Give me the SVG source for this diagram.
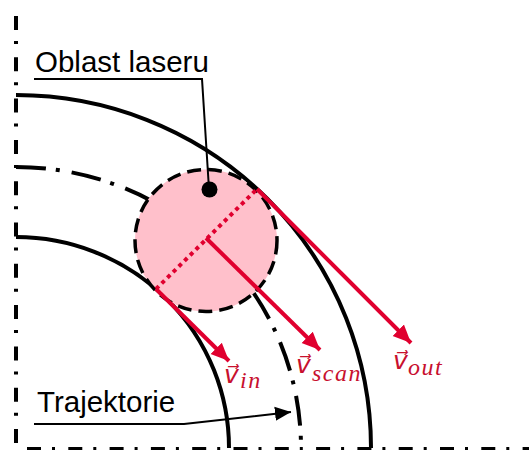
<svg xmlns="http://www.w3.org/2000/svg" width="529" height="450" viewBox="0 0 529 450">
<style>
.k{fill:none;stroke:#000}
.r{fill:none;stroke:#e0002f;stroke-width:4}
.l{font:29.500px "Liberation Sans",Arial,sans-serif;fill:#000}
.m{font:italic 25px "DejaVu Sans",sans-serif;fill:#c8102e}
.s{font:italic 24px "Liberation Serif",serif;fill:#c8102e;letter-spacing:1.500px}
</style>
<defs>
<marker id="rh" markerUnits="userSpaceOnUse" markerWidth="20" markerHeight="18" refX="18" refY="9" orient="auto"><path d="M0 1L18 9L0 17Z" fill="#e0002f"/></marker>
<marker id="kh" markerUnits="userSpaceOnUse" markerWidth="18" markerHeight="16" refX="16" refY="8" orient="auto"><path d="M0 1L16 8L0 15Z" fill="#000"/></marker>
</defs>
<g id="axes">
<path class="k" stroke-width="4" stroke-dasharray="14 11 3 13.300" d="M16 16V448"/>
<path class="k" stroke-width="4" stroke-dasharray="14 11 3 13.300" d="M27 449H529"/>
</g>
<g id="outer-track"><path class="k" stroke-width="4" d="M16 95A355 353 0 0 1 371 448"/></g>
<g id="inner-track"><path class="k" stroke-width="4" d="M16 237A213 211 0 0 1 229 448"/></g>
<g id="trajectory"><path class="k" stroke-width="4" stroke-dasharray="30 10 4 12" d="M16 167A285 281 0 0 1 301 448"/></g>
<g id="laser-area">
<circle cx="206" cy="240.500" r="71" fill="#ffc0cb" stroke="#000" stroke-width="3.500" stroke-dasharray="14 7"/>
<circle cx="209.500" cy="189.500" r="8" fill="#000"/>
</g>
<g id="connectors">
<path class="k" stroke-width="2" d="M34 79H202L209 189"/>
<path class="k" stroke-width="2" marker-end="url(#kh)" d="M34 424H184L291 412"/>
<path fill="none" stroke="#e0002f" stroke-width="4" stroke-dasharray="4 4" d="M156 289L257 189"/>
<path class="r" marker-end="url(#rh)" d="M156 289L229 361"/>
<path class="r" marker-end="url(#rh)" d="M206 238L320 350"/>
<path class="r" marker-end="url(#rh)" d="M257 189L411 343"/>
</g>
<g id="labels">
<text class="l" x="35" y="72">Oblast laseru</text>
<text class="l" x="37" y="412">Trajektorie</text>
<text class="m" x="224" y="383">v⃗<tspan class="s" x="240" dy="5">in</tspan></text>
<text class="m" x="296" y="373">v⃗<tspan class="s" x="312" dy="8" letter-spacing="0.500">scan</tspan></text>
<text class="m" x="393" y="369">v⃗<tspan class="s" x="408" dy="6">out</tspan></text>
</g>
</svg>
